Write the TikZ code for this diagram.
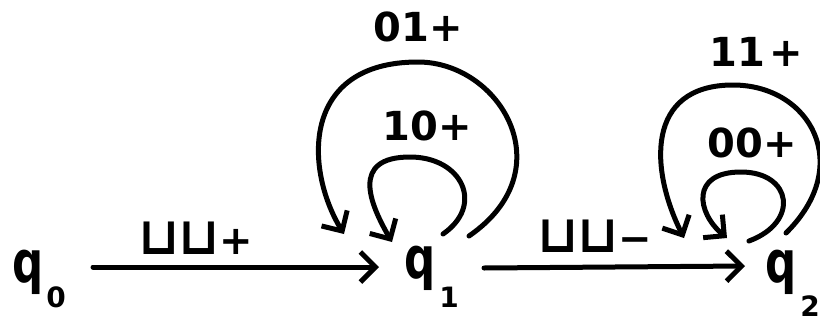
\documentclass[tikz,border=0pt]{standalone}
\usepackage{fontspec}
\setmainfont{DejaVu Sans}
\newfontfamily\qfont[FakeStretch=0.75]{DejaVu Sans}
\usetikzlibrary{arrows.meta}
\begin{document}
\begin{tikzpicture}[x=1pt,y=-1pt,line cap=round,line join=round,
  edge/.style={line width=5pt,-{Straight Barb[length=15pt,width=30pt]}},
  lab/.style={font=\fontsize{40}{40}\bfseries\selectfont,inner sep=0pt},
  st/.style={font=\qfont\fontsize{58}{58}\bfseries\selectfont,inner sep=0pt,anchor=base west}]
\useasboundingbox (0,0) rectangle (820,322);
\newcommand{\subdig}[3]{\hspace{#1}\raisebox{#2}{\normalfont\fontsize{28}{28}\bfseries\selectfont #3}}
\newcommand{\blank}{\scalebox{1.3}{⊔}}
% states
\node[st] (q0) at (12,282) {q\subdig{3pt}{-25pt}{0}};
\node[st] (q1) at (404,278) {q\subdig{4pt}{-29pt}{1}};
\node[st] (q2) at (765,282) {q\subdig{4pt}{-34pt}{2}};
% labels
\node[lab] (l1) at (196,238) {\blank\kern-2pt\blank+};
\node[lab] (l2) at (595,236) {\blank\kern-2pt\blank−};
\node[lab] (l3) at (418,27) {01+};
\node[lab] (l4) at (427,126) {10+};
\node[lab] (l5) at (756,52) {11\kern4pt+};
\node[lab] (l6) at (752,143) {00+};
% main transitions
\draw[edge] ([xshift=27pt,yshift=15pt]q0.base east) -- ([xshift=-25pt,yshift=11pt]q1.base west);
\draw[edge] ([xshift=25pt,yshift=10pt]q1.base east) -- ([xshift=-20pt,yshift=16pt]q2.base west);
% loops on q1
\draw[edge] ([shift={(65,-42)}]q1.base west) .. controls (565,170) and (500,62) .. (418,62)
  .. controls (300,62) and (305,170) .. ([shift={(-60,-44)}]q1.base west);
\draw[edge] ([shift={(39,-44)}]q1.base west) .. controls (485,205) and (462,157) .. (410,157)
  .. controls (350,157) and (370,204) .. ([shift={(-12,-36)}]q1.base west);
% loops on q2
\draw[edge] ([shift={(21,-49)}]q2.base west) .. controls (855,165) and (810,85) .. (733,85)
  .. controls (645,85) and (650,170) .. ([shift={(-81,-44)}]q2.base west);
\draw[edge] ([shift={(-16,-41)}]q2.base west) .. controls (800,222) and (792,172) .. (741,172)
  .. controls (690,172) and (697,213) .. ([shift={(-38,-44)}]q2.base west);
\end{tikzpicture}
\end{document}
